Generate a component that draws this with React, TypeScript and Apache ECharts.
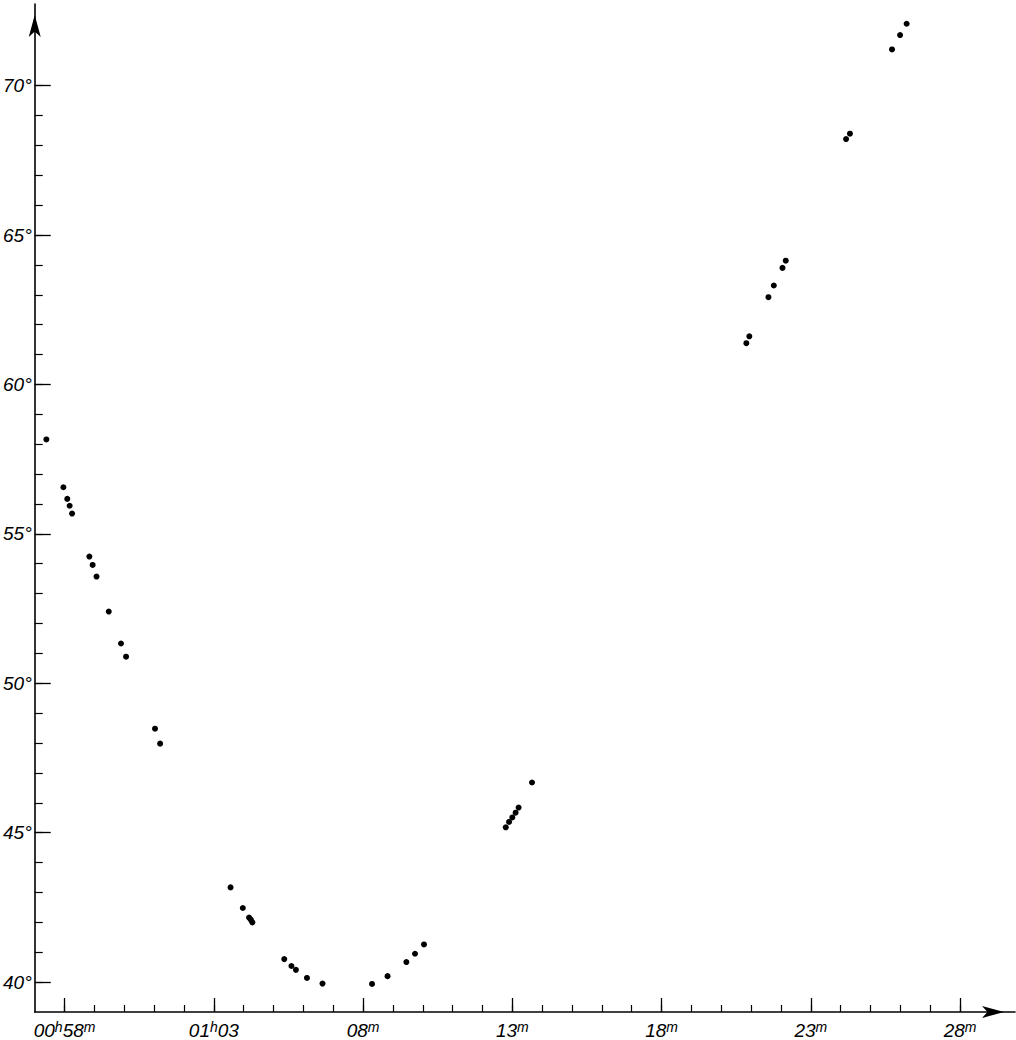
import React, { useEffect, useRef } from "react";
import * as echarts from "echarts";

// time in minutes after 00h00m
const times = [
  57.39, 57.96, 58.09, 58.17, 58.25, 58.83, 58.94, 59.07, 59.48, 59.89, 60.06, 61.03, 61.2,
  63.56, 63.97, 64.18, 64.24, 64.29, 65.36, 65.6, 65.75, 66.12, 66.64,
  68.3, 68.82, 69.45, 69.74, 70.04,
  72.78, 72.89, 73.0, 73.11, 73.21, 73.66,
  80.84, 80.94, 81.58, 81.76, 82.05, 82.16, 84.18, 84.31, 85.72, 85.99, 86.21,
];
// altitude in degrees
const altitudes = [
  58.16, 56.56, 56.17, 55.94, 55.68, 54.24, 53.96, 53.57, 52.4, 51.33, 50.89, 48.48, 47.98,
  43.17, 42.48, 42.16, 42.09, 42.0, 40.77, 40.54, 40.41, 40.14, 39.95,
  39.94, 40.2, 40.67, 40.95, 41.26,
  45.18, 45.36, 45.51, 45.67, 45.84, 46.68,
  61.38, 61.61, 62.92, 63.31, 63.9, 64.14, 68.21, 68.39, 71.21, 71.69, 72.07,
];

const xMinorTicks = [58, 59, 60, 61, 62, 63, 64, 65, 66, 67, 68, 69, 70, 71, 72, 73, 74, 75, 76, 77, 78, 79, 80, 81, 82, 83, 84, 85, 86, 87, 88];
const xMajorTicks = [58, 63, 68, 73, 78, 83, 88];
const xTickLabels = [
  "{d|00}{s|h}{d|58}{s|m}",
  "{d|01}{s|h}{d|03}",
  "{d|08}{s|m}",
  "{d|13}{s|m}",
  "{d|18}{s|m}",
  "{d|23}{s|m}",
  "{d|28}{s|m}",
];
const yMinorTicks = [40, 41, 42, 43, 44, 45, 46, 47, 48, 49, 50, 51, 52, 53, 54, 55, 56, 57, 58, 59, 60, 61, 62, 63, 64, 65, 66, 67, 68, 69, 70];
const yMajorTicks = [40, 45, 50, 55, 60, 65, 70];
const yTickLabels = ["40°", "45°", "50°", "55°", "60°", "65°", "70°"];

const X_MIN = 57;
const X_MAX = 89.84;
const Y_MIN = 39;
const Y_MAX = 72.73;

const INK = "#000";
const FONT = "'Liberation Sans', Arial, sans-serif";

export default function App() {
  const ref = useRef<HTMLDivElement>(null);

  useEffect(() => {
    if (!ref.current) return;
    const chart = echarts.init(ref.current, null, { renderer: "svg" });
    const data = times.map((t, i) => [t, altitudes[i]]);

    const baseX = {
      type: "value",
      min: X_MIN,
      max: X_MAX,
      position: "bottom",
      splitLine: { show: false },
    };
    const baseY = {
      type: "value",
      min: Y_MIN,
      max: Y_MAX,
      position: "left",
      splitLine: { show: false },
    };

    chart.setOption({
      animation: false,
      backgroundColor: "#fff",
      grid: { left: 33.4, right: 1, top: 4, bottom: 28, containLabel: false },
      xAxis: [
        {
          ...baseX,
          axisLine: {
            show: true,
            onZero: false,
            lineStyle: { color: INK, width: 1.6 },
            symbol: ["none", "arrow"],
            symbolSize: [9, 22],
            symbolOffset: [0, -11],
          },
          axisTick: {
            show: true,
            inside: true,
            length: 7,
            customValues: xMinorTicks,
            lineStyle: { color: INK, width: 1.2 },
          },
          axisLabel: { show: false },
        },
        {
          ...baseX,
          axisLine: { show: false, onZero: false },
          axisTick: {
            show: true,
            inside: true,
            length: 14,
            customValues: xMajorTicks,
            lineStyle: { color: INK, width: 1.3 },
          },
          axisLabel: {
            show: true,
            customValues: xMajorTicks,
            margin: 8,
            formatter: (v: number) => {
              const i = xMajorTicks.indexOf(Math.round(v));
              return i >= 0 ? xTickLabels[i] : "";
            },
            rich: {
              d: { fontSize: 19, fontStyle: "italic", fontFamily: FONT, color: INK, lineHeight: 20, verticalAlign: "bottom" },
              s: { fontSize: 14, fontStyle: "italic", fontFamily: FONT, color: INK, lineHeight: 20, verticalAlign: "top", padding: [0, 0, 6, 0] },
            },
          },
        },
      ],
      yAxis: [
        {
          ...baseY,
          axisLine: {
            show: true,
            onZero: false,
            lineStyle: { color: INK, width: 1.6 },
            symbol: ["none", "arrow"],
            symbolSize: [9, 22],
            symbolOffset: [0, -11],
          },
          axisTick: {
            show: true,
            inside: true,
            length: 8,
            customValues: yMinorTicks,
            lineStyle: { color: INK, width: 1.2 },
          },
          axisLabel: { show: false },
        },
        {
          ...baseY,
          axisLine: { show: false, onZero: false },
          axisTick: {
            show: true,
            inside: true,
            length: 16,
            customValues: yMajorTicks,
            lineStyle: { color: INK, width: 1.3 },
          },
          axisLabel: {
            show: true,
            customValues: yMajorTicks,
            margin: 3,
            fontSize: 19,
            fontStyle: "italic",
            fontFamily: FONT,
            color: INK,
            formatter: (v: number) => {
              const i = yMajorTicks.indexOf(Math.round(v));
              return i >= 0 ? yTickLabels[i] : "";
            },
          },
        },
      ],
      series: [
        {
          type: "scatter",
          xAxisIndex: 0,
          yAxisIndex: 0,
          data,
          symbol: "circle",
          symbolSize: 6,
          itemStyle: { color: "#000", opacity: 1 },
          silent: true,
        },
      ],
    });

    return () => chart.dispose();
  }, []);

  return (
    <div
      ref={ref}
      style={{ position: "absolute", left: 0, top: 0, width: 1016, height: 1040, background: "#fff" }}
    />
  );
}
